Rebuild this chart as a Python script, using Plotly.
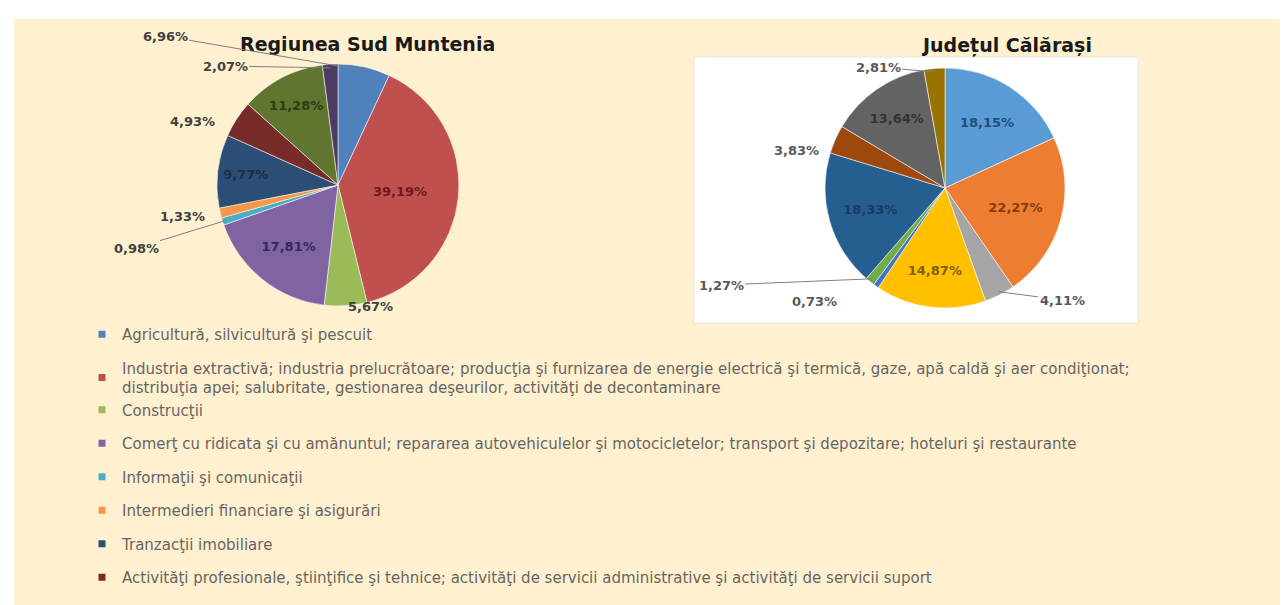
import math
import plotly.graph_objects as go

W, H = 1288, 605

# ---------------- data ----------------
categories = [
    "Agricultură, silvicultură şi pescuit",
    "Industria extractivă; industria prelucrătoare; producţia şi furnizarea de energie electrică şi termică, gaze, apă caldă şi aer condiţionat;<br>distribuţia apei; salubritate, gestionarea deşeurilor, activităţi de decontaminare",
    "Construcţii",
    "Comerţ cu ridicata şi cu amănuntul; repararea autovehiculelor şi motocicletelor; transport şi depozitare; hoteluri şi restaurante",
    "Informaţii şi comunicaţii",
    "Intermedieri financiare şi asigurări",
    "Tranzacţii imobiliare",
    "Activităţi profesionale, ştiinţifice şi tehnice; activităţi de servicii administrative şi activităţi de servicii suport",
    "Administraţie publică şi apărare; învăţământ; sănătate şi asistenţă socială",
    "Activităţi de spectacole, culturale şi recreative; alte activităţi de servicii",
]
legend_count = 8  # entries visible in the legend

sud_muntenia = [6.96, 39.19, 5.67, 17.81, 0.98, 1.33, 9.77, 4.93, 11.28, 2.07]
calarasi = [18.15, 22.27, 4.11, 14.87, 0.73, 1.27, 18.33, 3.83, 13.64, 2.81]

title_left = "Regiunea Sud Muntenia"
title_right = "Județul Călărași"

# ---------------- styles ----------------
colors_left = ["#4F81BD", "#C0504D", "#9BBB59", "#8064A2", "#4BACC6",
               "#F79646", "#2C4D75", "#772C2A", "#5F7530", "#4D3B62"]
colors_right = ["#5B9BD5", "#ED7D31", "#A5A5A5", "#FFC000", "#4472C4",
                "#70AD47", "#255E91", "#9E480E", "#636363", "#997300"]
inside_color_left = ["#1F3A5F", "#6E1A1A", "#3F5216", "#3A2757", "#1F4F5C",
                     "#7A4310", "#1B2F4A", "#3C1414", "#2E3C12", "#2A1F37"]
inside_color_right = ["#1F4E79", "#843C0C", "#3F3F3F", "#7F6000", "#203864",
                      "#375623", "#1F3864", "#5A2808", "#333333", "#4D3A00"]
inside_left = [False, True, False, True, False, False, True, False, True, False]
inside_right = [True, True, False, True, False, False, True, False, True, False]

BG = "#FFF0D0"
FONT_LABEL = "'DejaVu Sans', sans-serif"
FONT_LEGEND = "'DejaVu Sans', sans-serif"


def fmt(v):
    return f"{v:.2f}".replace(".", ",") + "%"


def px_to_paper(x, y):
    return x / W, 1 - y / H


# pie geometry (pixels)
C1, R1 = (330, 177), 121
C2, R2 = (937, 180), 120


def pie_domain(c, r):
    x0, y1 = px_to_paper(c[0] - r, c[1] - r)
    x1, y0 = px_to_paper(c[0] + r, c[1] + r)
    return dict(x=[x0, x1], y=[y0, y1])


def slice_point(values, i, c, r, k=0.97):
    tot = sum(values)
    f = (sum(values[:i]) + values[i] / 2) / tot
    th = 2 * math.pi * f
    return c[0] + k * r * math.sin(th), c[1] - k * r * math.cos(th)


fig = go.Figure()

for vals, cols, tcols, inside, c, r in [
    (sud_muntenia, colors_left, inside_color_left, inside_left, C1, R1),
    (calarasi, colors_right, inside_color_right, inside_right, C2, R2),
]:
    fig.add_trace(go.Pie(
        labels=[lab.replace("<br>", " ") for lab in categories],
        values=vals,
        sort=False,
        direction="clockwise",
        rotation=0,
        marker=dict(colors=cols, line=dict(color="rgba(255,255,255,0.55)", width=1)),
        text=[f"<b>{fmt(v)}</b>" if ins else "" for v, ins in zip(vals, inside)],
        textinfo="text",
        textposition="inside",
        insidetextorientation="horizontal",
        textfont=dict(family=FONT_LABEL, size=13, color=tcols),
        hovertemplate="%{label}<br>%{value:.2f}%<extra></extra>",
        showlegend=False,
        domain=pie_domain(c, r),
    ))

# legend entries (left chart palette)
for i in range(legend_count):
    fig.add_trace(go.Scatter(
        x=[None], y=[None], mode="markers", name=categories[i],
        marker=dict(symbol="square", size=7, color=colors_left[i]),
        legendgroup="g2" if i in (1, 2) else f"g{i}",
        hoverinfo="skip",
    ))

annotations = []
# titles
for t, (x, y) in [(title_left, (360, 36)), (title_right, (998, 37))]:
    xp, yp = px_to_paper(x, y)
    annotations.append(dict(text=f"<b>{t}</b>", x=xp, y=yp, xref="paper", yref="paper",
                            showarrow=False, xanchor="center", yanchor="middle",
                            font=dict(family=FONT_LABEL, size=19, color="#1A1A1A")))

# outside labels: (series, centre, radius, index, label pixel position, leader line?, colour)
outside = [
    (sud_muntenia, C1, R1, 0, (157, 28), True, "#404040"),
    (sud_muntenia, C1, R1, 9, (217, 58), True, "#404040"),
    (sud_muntenia, C1, R1, 7, (160, 104), False, "#404040"),
    (sud_muntenia, C1, R1, 5, (150, 208), False, "#404040"),
    (sud_muntenia, C1, R1, 4, (128, 240), True, "#404040"),
    (sud_muntenia, C1, R1, 2, (338, 298), False, "#404040"),
    (calarasi, C2, R2, 9, (870, 59), True, "#595959"),
    (calarasi, C2, R2, 7, (788, 133), False, "#595959"),
    (calarasi, C2, R2, 5, (713, 277), True, "#595959"),
    (calarasi, C2, R2, 4, (806, 293), False, "#595959"),
    (calarasi, C2, R2, 2, (1054, 292), True, "#595959"),
]
for vals, c, r, i, (lx, ly), line, col in outside:
    txt = f"<b>{fmt(vals[i])}</b>"
    font = dict(family=FONT_LABEL, size=13, color=col)
    if line:
        hx, hy = slice_point(vals, i, c, r)
        xp, yp = px_to_paper(hx, hy)
        annotations.append(dict(text=txt, x=xp, y=yp, xref="paper", yref="paper",
                                ax=lx - hx, ay=ly - hy, showarrow=True, arrowhead=0,
                                arrowwidth=1, arrowcolor="#7F7F7F", standoff=0,
                                font=font))
    else:
        xp, yp = px_to_paper(lx, ly)
        annotations.append(dict(text=txt, x=xp, y=yp, xref="paper", yref="paper",
                                showarrow=False, font=font))

shapes = [
    dict(type="rect", xref="paper", yref="paper", x0=6 / W, x1=1, y0=0, y1=1 - 11 / H,
         fillcolor=BG, line=dict(width=0), layer="below"),
    dict(type="rect", xref="paper", yref="paper", x0=686 / W, x1=1130 / W,
         y0=1 - 315 / H, y1=1 - 49 / H, fillcolor="white",
         line=dict(color="#E6E6E6", width=1), layer="below"),
]

fig.update_layout(
    width=W, height=H,
    margin=dict(l=0, r=0, t=0, b=0),
    paper_bgcolor="white",
    plot_bgcolor="rgba(0,0,0,0)",
    separators=",.",
    xaxis=dict(visible=False),
    yaxis=dict(visible=False),
    shapes=shapes,
    annotations=annotations,
    showlegend=True,
    legend=dict(
        x=74 / W, y=1 - 310 / H, xanchor="left", yanchor="top",
        bgcolor="rgba(0,0,0,0)",
        font=dict(family=FONT_LEGEND, size=15, color="#666666"),
        itemwidth=30, tracegroupgap=11, traceorder="grouped",
        itemclick=False, itemdoubleclick=False,
    ),
)

fig.write_html("out.html")
